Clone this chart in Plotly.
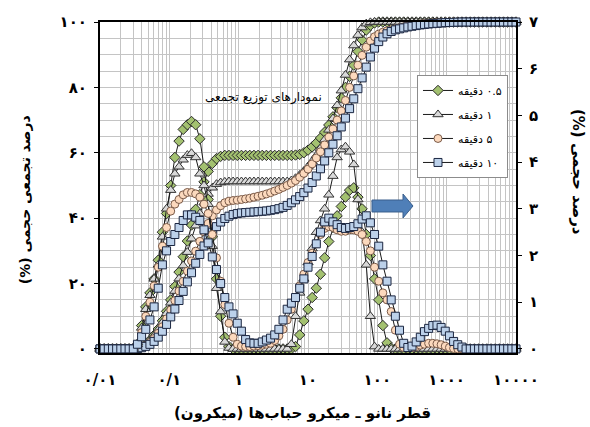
import plotly.graph_objects as go

# particle size classes (micron), log-spaced bins
size_um = [0.01, 0.01148, 0.01318, 0.01514, 0.01738, 0.01995, 0.02291, 0.0263, 0.0302, 0.03467,
           0.03981, 0.04571, 0.05248, 0.06026, 0.06918, 0.07943, 0.0912, 0.1047, 0.1202, 0.138,
           0.1585, 0.182, 0.2089, 0.2399, 0.2754, 0.3162, 0.3631, 0.4169, 0.4786, 0.5495,
           0.631, 0.7244, 0.8318, 0.955, 1.096, 1.259, 1.445, 1.66, 1.905, 2.188,
           2.512, 2.884, 3.311, 3.802, 4.365, 5.012, 5.754, 6.607, 7.586, 8.71,
           10, 11.48, 13.18, 15.14, 17.38, 19.95, 22.91, 26.3, 30.2, 34.67,
           39.81, 45.71, 52.48, 60.26, 69.18, 79.43, 91.2, 104.7, 120.2, 138,
           158.5, 182, 208.9, 239.9, 275.4, 316.2, 363.1, 416.9, 478.6, 549.5,
           631, 724.4, 831.8, 955, 1096, 1259, 1445, 1660, 1905, 2188,
           2512, 2884, 3311, 3802, 4365, 5012, 5754, 6607, 7586, 8710, 10000]

# cumulative volume % (left axis)
cum_05 = ([0] * 9 +
          [0.1, 0.6, 1.5, 2.7, 4.2, 6.1, 8.6, 11.5, 15.0, 19.1, 23.5, 28.2, 33.0, 37.9, 42.7,
           47.2, 51.1, 54.3, 56.7, 58.2, 58.9, 59.2, 59.2] +
          [59.2] * 15 +
          [59.3, 59.5, 60.0, 60.8, 61.8, 63.0, 64.5, 66.3, 68.5, 71.0, 73.8, 76.8, 80.0, 83.4,
           86.8, 91.0, 94.5, 97.5, 99.0, 99.7] +
          [100] * 34)
cum_1 = ([0] * 9 +
         [0.1, 0.55, 1.4, 2.55, 4.05, 5.85, 8.1, 10.9, 14.1, 17.7, 21.5, 25.5, 29.6, 33.7, 37.7,
          41.4, 44.7, 47.4, 49.3, 50.4, 50.9, 51.1, 51.2] +
         [51.2] * 14 +
         [51.5, 52.2, 53.2, 54.4, 55.8, 57.4, 59.2, 61.4, 64.0, 67.0, 70.5, 74.5, 79.0, 83.8,
          88.5, 92.8, 96.0, 98.3, 99.5, 99.9] +
         [100] * 35)
cum_5 = ([0] * 9 +
         [0.07, 0.4, 1.0, 2.0, 3.2, 4.8, 6.8, 9.2, 11.9, 14.8, 17.7, 20.7, 23.8, 26.9, 29.9,
          32.9, 35.8, 38.4, 40.7, 42.5, 43.8, 44.7, 45.2, 45.4, 45.5] +
         [45.7, 45.9, 46.1, 46.4, 46.7, 47.0, 47.4, 47.8, 48.3, 48.8, 49.4, 50.0, 50.7, 51.5,
          52.5, 53.7, 55.0, 56.6, 58.4, 60.3, 62.4, 64.8, 67.3, 70.0, 72.8, 76.0, 80.0, 83.5,
          86.8, 89.8, 92.3, 94.2, 95.5, 96.3, 96.9, 97.3, 97.6, 97.9, 98.2, 98.5, 98.8, 99.0,
          99.2, 99.4, 99.5, 99.6, 99.7, 99.8, 99.9, 99.95] +
         [100] * 17)
cum_10 = ([0] * 9 +
          [0.1, 0.36, 0.78, 1.4, 2.3, 3.6, 5.4, 7.5, 9.8, 12.2, 14.8, 17.6, 20.5, 23.3, 26.2,
           28.9, 31.5, 33.7, 35.7, 37.4, 38.8, 39.9, 40.6, 41.1, 41.4, 41.6, 41.7, 41.8, 41.9,
           42.0, 42.1, 42.2, 42.4, 42.6, 42.9, 43.3, 43.9, 44.7, 45.6, 46.6, 47.8, 49.2, 50.9,
           52.9, 55.1, 57.5, 60.0, 62.6, 65.2, 67.9, 70.6, 73.5, 76.5, 79.6, 82.9, 86.2, 89.3,
           92.0, 94.0, 95.4, 96.4, 97.1, 97.6, 97.9, 98.2, 98.5, 98.7, 98.9, 99.1, 99.25, 99.4,
           99.5, 99.6, 99.7, 99.8, 99.85, 99.9, 99.95] +
          [100] * 14)

# volume % per size class (right axis)
freq_05 = ([0] * 9 +
           [0.1, 0.5, 0.9, 1.2, 1.5, 1.9, 2.5, 2.9, 3.5, 4.1, 4.45, 4.7, 4.8, 4.87, 4.8, 4.5,
            3.9, 3.2, 2.4, 1.5, 0.7, 0.25, 0.05] +
           [0] * 15 +
           [0.05, 0.3, 0.6, 0.85, 1.1, 1.3, 1.6, 1.95, 2.3, 2.6, 2.85, 3.05, 3.25, 3.4, 3.45,
            3.25, 3.0, 2.45, 2.0, 1.5, 1.05, 0.5, 0.13, 0.02] +
           [0] * 30)
freq_1 = ([0] * 9 +
          [0.1, 0.45, 0.85, 1.15, 1.5, 1.8, 2.4, 3.0, 3.4, 3.75, 3.9, 4.05, 4.15, 4.19, 4.1,
           3.75, 3.5, 3.1, 2.2, 1.3, 0.8, 0.15, 0.02] +
          [0] * 14 +
          [0.1, 0.7, 1.2, 1.5, 1.85, 2.15, 2.5, 2.75, 3.0, 3.3, 3.7, 4.1, 4.27, 4.33, 4.22,
           3.95, 3.2, 2.5, 1.8, 0.7, 0.05] +
          [0] * 34)
freq_5 = ([0] * 9 +
          [0.08, 0.35, 0.7, 1.0, 1.35, 1.75, 2.2, 2.6, 2.95, 3.1, 3.2, 3.3, 3.35, 3.35, 3.32,
           3.25, 3.1, 2.9, 2.45, 1.95, 1.45, 0.95, 0.55, 0.25, 0.1] +
          [0.06, 0.05, 0.05, 0.06, 0.07, 0.08, 0.1] +
          [0.12, 0.18, 0.28, 0.42, 0.62, 0.85, 1.1, 1.35, 1.6, 1.85, 2.05, 2.25, 2.45, 2.58,
           2.62, 2.6, 2.55, 2.52, 2.52, 2.55, 2.55, 2.52, 2.45, 2.3, 2.1, 1.75, 1.45, 1.2, 1.05,
           0.8, 0.4, 0.1, 0.03] +
          [0.02, 0.03, 0.05, 0.08, 0.1, 0.12, 0.12, 0.11, 0.09, 0.06, 0.03, 0.01] +
          [0] * 15)
freq_10 = ([0] * 9 +
           [0.1, 0.26, 0.42, 0.62, 0.9, 1.3, 1.8, 2.1, 2.3, 2.45, 2.6, 2.75, 2.87, 2.87, 2.82,
            2.75, 2.55, 2.27, 1.97, 1.7, 1.4, 1.1, 0.9, 0.75, 0.55, 0.38, 0.2, 0.13, 0.12, 0.12,
            0.15, 0.19, 0.23, 0.3, 0.42, 0.62, 0.85, 0.98, 1.1, 1.3, 1.5, 1.75, 1.98, 2.25, 2.5,
            2.72, 2.8, 2.72, 2.66, 2.6, 2.58, 2.6, 2.62, 2.68, 2.78, 2.85, 2.7, 2.45, 2.2, 1.8,
            1.45, 1.05, 0.7, 0.4, 0.12, 0.03, 0.06, 0.15, 0.25, 0.37, 0.44, 0.5, 0.51, 0.46,
            0.38, 0.28, 0.16, 0.09, 0.04] +
           [0] * 13)

legend_names = ["\u200f۰.۵ دقیقه", "\u200f۱ دقیقه", "\u200f۵ دقیقه", "\u200f۱۰ دقیقه"]
x_tick_vals = [0.01, 0.1, 1, 10, 100, 1000, 10000]
x_tick_text = ["۰/۰۱", "۰/۱", "۱", "۱۰", "۱۰۰", "۱۰۰۰", "۱۰۰۰۰"]
y_tick_vals = [0, 20, 40, 60, 80, 100]
y_tick_text = ["۰", "۲۰", "۴۰", "۶۰", "۸۰", "۱۰۰"]
y2_tick_vals = [0, 1, 2, 3, 4, 5, 6, 7]
y2_tick_text = ["۰", "۱", "۲", "۳", "۴", "۵", "۶", "۷"]

styles = [
    dict(symbol="diamond", size=8, color="#a3c170", line=dict(color="#2a2a2a", width=1)),
    dict(symbol="triangle-up", size=9, color="#d9d9d9", line=dict(color="#333333", width=1)),
    dict(symbol="circle", size=8, color="#fcd9bd", line=dict(color="#7a5a48", width=1)),
    dict(symbol="square", size=8, color="#bcd1ea", line=dict(color="#1b2640", width=1)),
]
cums = [cum_05, cum_1, cum_5, cum_10]
freqs = [freq_05, freq_1, freq_5, freq_10]

fig = go.Figure()
for name, cum, st in zip(legend_names, cums, styles):
    fig.add_trace(go.Scatter(x=size_um, y=cum, mode="lines+markers", name=name,
                             legendgroup=name, showlegend=True,
                             line=dict(color="#1a1a1a", width=1), marker=st,
                             cliponaxis=False))
for name, fr, st in zip(legend_names, freqs, styles):
    fig.add_trace(go.Scatter(x=size_um, y=fr, mode="lines+markers", name=name,
                             legendgroup=name, showlegend=False, yaxis="y2",
                             line=dict(color="#1a1a1a", width=1), marker=st,
                             cliponaxis=False))

minor_x = [m * 10 ** e for e in range(-2, 4) for m in range(2, 10)]
grid_c = "#c4c4c4"
bold15 = dict(family="DejaVu Sans", size=15, color="black", weight="bold")

fig.update_layout(
    width=590, height=427,
    margin=dict(l=100, r=74, t=22, b=74, autoexpand=False),
    paper_bgcolor="white", plot_bgcolor="white",
    font=dict(family="DejaVu Sans", size=12, color="black"),
    xaxis=dict(type="log", range=[-2, 4], tickmode="array", tickvals=x_tick_vals,
               ticktext=x_tick_text, tickfont=bold15, showgrid=True, gridcolor=grid_c,
               gridwidth=1, minor=dict(tickvals=minor_x, showgrid=True, gridcolor=grid_c),
               showline=True, linecolor="black", linewidth=2, mirror=True, ticks="",
               ticklabelstandoff=12, zeroline=False, automargin=False),
    yaxis=dict(range=[-1.25, 100], tickmode="array", tickvals=y_tick_vals,
               ticktext=y_tick_text, tickfont=bold15, showgrid=True, gridcolor=grid_c,
               minor=dict(tickvals=list(range(0, 101, 5)), showgrid=True, gridcolor=grid_c),
               showline=True, linecolor="black", linewidth=2, ticks="outside", ticklen=4,
               tickcolor="black", ticklabelstandoff=4, zeroline=False, automargin=False),
    yaxis2=dict(range=[-0.0875, 7], overlaying="y", side="right", tickmode="array",
                tickvals=y2_tick_vals, ticktext=y2_tick_text, tickfont=bold15,
                showgrid=False, showline=True, linecolor="black", linewidth=2,
                ticks="outside", ticklen=4, tickcolor="black", ticklabelstandoff=4,
                zeroline=False, automargin=False),
    legend=dict(x=0.762, y=0.84, xanchor="left", yanchor="top", bgcolor="white",
                bordercolor="#8c8c8c", borderwidth=1, font=dict(size=11),
                itemwidth=30, tracegroupgap=5),
    showlegend=True,
)

fig.add_annotation(text="\u200fدرصد تجمعی حجمی (%)\u200f", xref="paper", yref="paper",
                   x=-0.18, y=0.462, xanchor="center", yanchor="middle",
                   textangle=-90, showarrow=False,
                   font=dict(family="DejaVu Sans", size=14, weight="bold"))
fig.add_annotation(text="\u200fدرصد حجمی (%)\u200f", xref="paper", yref="paper",
                   x=1.149, y=0.547, xanchor="center", yanchor="middle",
                   textangle=90, showarrow=False,
                   font=dict(family="DejaVu Sans", size=15, weight="bold"))
fig.add_annotation(text="قطر نانو ـ میکرو حباب‌ها (میکرون)", xref="paper", yref="paper",
                   x=0.486, y=-0.181, xanchor="center", yanchor="middle", showarrow=False,
                   font=dict(family="DejaVu Sans", size=15, weight="bold"))
fig.add_annotation(text="نمودارهای توزیع تجمعی", xref="paper", yref="paper",
                   x=0.392, y=0.773, xanchor="center", yanchor="middle", showarrow=False,
                   font=dict(family="DejaVu Sans", size=12))

fig.add_shape(type="path", xref="paper", yref="paper",
              path="M 0.6538,0.4622 L 0.7284,0.4622 L 0.7284,0.4804 L 0.7524,0.4441 "
                   "L 0.7284,0.4079 L 0.7284,0.4260 L 0.6538,0.4260 Z",
              fillcolor="#4f7fb8", line=dict(color="#3a5f8c", width=1))

fig.write_html("out.html", config={"displayModeBar": False},
               post_script="document.body.style.margin='0';")
